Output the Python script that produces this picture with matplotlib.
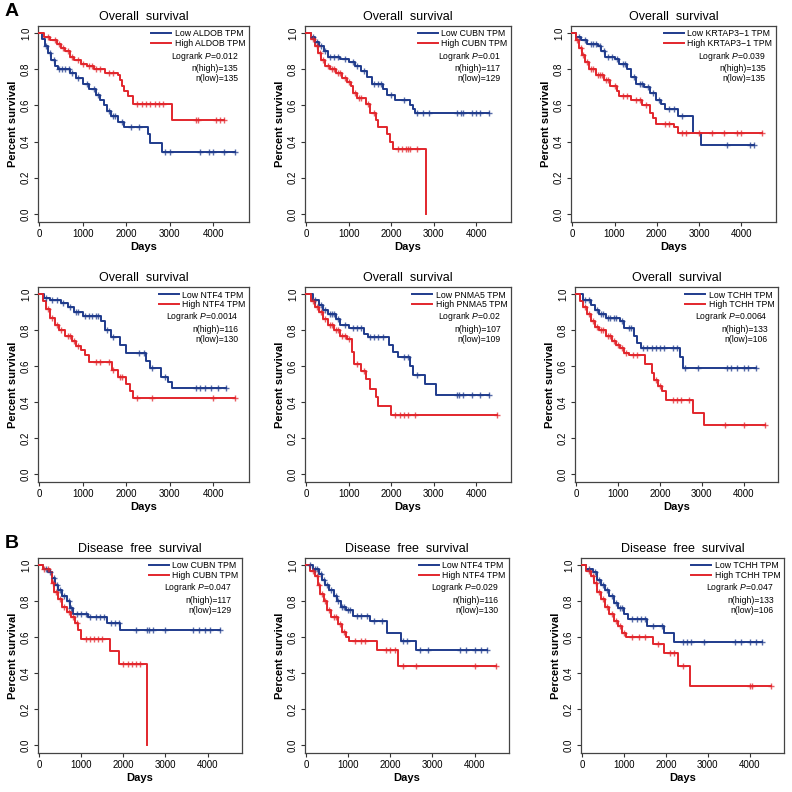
import numpy as np
import matplotlib
matplotlib.use("Agg")
import matplotlib.pyplot as plt

plt.rcParams["font.family"] = ["Liberation Sans", "DejaVu Sans"]
plt.rcParams["mathtext.fontset"] = "custom"
plt.rcParams["mathtext.rm"] = "Liberation Sans"
plt.rcParams["mathtext.it"] = "Liberation Sans:italic"

BLUE = "#1f3b8c"
RED = "#e2262c"

# ---- data: (days, survival) step points, censor days ----
# A1 ALDOB OS
aldob_low = [(0, 1.0), (60, 0.97), (120, 0.93), (200, 0.89), (280, 0.85), (350, 0.82), (420, 0.80),
             (700, 0.78), (850, 0.75), (1000, 0.72), (1150, 0.69), (1300, 0.66), (1400, 0.63),
             (1480, 0.60), (1550, 0.57), (1650, 0.54), (1800, 0.51), (1950, 0.48), (2500, 0.44),
             (2550, 0.39), (2830, 0.34), (4500, 0.34)]
aldob_low_cens = [150, 250, 330, 450, 520, 600, 680, 760, 900, 1100, 1250, 1350, 1600, 1700, 1750,
                  1900, 2100, 2300, 2900, 3000, 3700, 3900, 4000, 4250, 4500]
aldob_high = [(0, 1.0), (100, 0.98), (250, 0.96), (400, 0.94), (500, 0.92), (600, 0.90), (700, 0.87),
              (800, 0.85), (950, 0.83), (1100, 0.82), (1250, 0.80), (1500, 0.78), (1800, 0.77),
              (1850, 0.74), (1900, 0.71), (1950, 0.68), (2050, 0.65), (2150, 0.61), (3050, 0.52),
              (4250, 0.52)]
aldob_high_cens = [200, 350, 450, 550, 650, 750, 900, 1000, 1150, 1200, 1300, 1400, 1600, 1700,
                   2250, 2350, 2450, 2550, 2650, 2750, 2850, 3600, 3650, 4050, 4150, 4250]
# A2 CUBN OS
cubn_low = [(0, 1.0), (100, 0.98), (200, 0.95), (300, 0.93), (420, 0.90), (500, 0.87), (800, 0.86),
            (1000, 0.84), (1150, 0.82), (1300, 0.79), (1420, 0.76), (1550, 0.72), (1800, 0.69),
            (1900, 0.66), (2100, 0.63), (2450, 0.60), (2520, 0.58), (2570, 0.56), (4300, 0.56)]
cubn_low_cens = [150, 250, 350, 450, 550, 650, 750, 900, 1100, 1200, 1350, 1600, 1700, 1750, 2000,
                 2300, 2600, 2750, 2900, 3550, 3650, 3700, 3900, 4000, 4100, 4300]
cubn_high = [(0, 1.0), (100, 0.97), (200, 0.93), (280, 0.89), (350, 0.85), (450, 0.82), (550, 0.80),
             (700, 0.78), (850, 0.75), (950, 0.73), (1050, 0.71), (1100, 0.67), (1200, 0.64),
             (1400, 0.61), (1500, 0.56), (1650, 0.52), (1700, 0.48), (1900, 0.44), (1980, 0.40),
             (2050, 0.36), (2830, 0.0)]
cubn_high_cens = [150, 250, 320, 400, 500, 600, 650, 750, 800, 900, 1000, 1150, 1250, 1300, 1450,
                  1600, 2150, 2250, 2350, 2400, 2450, 2600]
# A3 KRTAP3-1 OS
krtap_low = [(0, 1.0), (100, 0.98), (200, 0.96), (350, 0.94), (600, 0.93), (680, 0.90), (780, 0.87),
             (1000, 0.86), (1100, 0.83), (1300, 0.80), (1380, 0.76), (1500, 0.72), (1700, 0.70),
             (1850, 0.67), (1980, 0.63), (2100, 0.61), (2200, 0.58), (2500, 0.54), (2850, 0.45),
             (3050, 0.38), (4300, 0.38)]
krtap_low_cens = [150, 300, 450, 500, 550, 650, 750, 850, 950, 1050, 1200, 1250, 1450, 1600, 1650,
                  1800, 1900, 2050, 2300, 2400, 2600, 3650, 4200, 4300]
krtap_high = [(0, 1.0), (80, 0.96), (150, 0.92), (220, 0.88), (300, 0.84), (400, 0.80), (550, 0.77),
              (750, 0.74), (900, 0.71), (1050, 0.68), (1100, 0.65), (1400, 0.63), (1650, 0.60),
              (1850, 0.56), (1900, 0.53), (1980, 0.50), (2400, 0.48), (2500, 0.45), (4500, 0.45)]
krtap_high_cens = [120, 200, 260, 350, 450, 500, 600, 650, 700, 800, 850, 1000, 1200, 1300, 1500,
                   1600, 1750, 2200, 2300, 2600, 2700, 3000, 3300, 3600, 3900, 4000, 4500]
# A4 NTF4 OS
ntf4_low = [(0, 1.0), (100, 0.98), (250, 0.97), (500, 0.95), (650, 0.93), (800, 0.90), (1000, 0.88),
            (1420, 0.85), (1500, 0.80), (1650, 0.76), (1850, 0.72), (2000, 0.67), (2450, 0.63),
            (2550, 0.59), (2800, 0.54), (2950, 0.51), (3050, 0.48), (4300, 0.48)]
ntf4_low_cens = [150, 300, 400, 550, 700, 850, 900, 1050, 1150, 1200, 1300, 1350, 1550, 1700, 2300,
                 2400, 2600, 2900, 3600, 3700, 3800, 3950, 4100, 4300]
ntf4_high = [(0, 1.0), (80, 0.96), (150, 0.92), (250, 0.87), (350, 0.83), (450, 0.80), (600, 0.77),
             (750, 0.74), (850, 0.71), (950, 0.69), (1050, 0.66), (1150, 0.62), (1680, 0.58),
             (1800, 0.54), (2000, 0.50), (2080, 0.46), (2150, 0.42), (4500, 0.42)]
ntf4_high_cens = [200, 300, 400, 500, 650, 700, 800, 900, 1300, 1400, 1600, 1700, 1850, 1900,
                  2250, 2600, 4000, 4500]
# A5 PNMA5 OS
pnma5_low = [(0, 1.0), (150, 0.97), (300, 0.94), (400, 0.91), (500, 0.89), (700, 0.86), (800, 0.83),
             (1000, 0.81), (1350, 0.78), (1450, 0.76), (1950, 0.72), (2050, 0.68), (2150, 0.65),
             (2450, 0.60), (2520, 0.55), (2800, 0.50), (3050, 0.44), (4300, 0.44)]
pnma5_low_cens = [200, 350, 450, 550, 600, 650, 750, 900, 1100, 1200, 1300, 1500, 1600, 1700, 1800,
                  2300, 2400, 2600, 3550, 3600, 3700, 3900, 4100, 4300]
pnma5_high = [(0, 1.0), (100, 0.96), (200, 0.93), (300, 0.90), (400, 0.86), (500, 0.83), (650, 0.80),
              (800, 0.77), (950, 0.75), (1080, 0.68), (1120, 0.61), (1300, 0.57), (1400, 0.53),
              (1500, 0.47), (1650, 0.43), (1700, 0.38), (2000, 0.33), (4500, 0.33)]
pnma5_high_cens = [150, 250, 350, 450, 550, 600, 700, 750, 850, 900, 1000, 1200, 1350, 2100, 2200,
                   2300, 2400, 2550, 4500]
# A6 TCHH OS
tchh_low = [(0, 1.0), (150, 0.97), (350, 0.94), (450, 0.91), (550, 0.89), (700, 0.87), (1050, 0.85),
            (1150, 0.81), (1380, 0.77), (1450, 0.73), (1550, 0.70), (2470, 0.65), (2550, 0.59),
            (4300, 0.59)]
tchh_low_cens = [200, 300, 500, 600, 650, 750, 800, 900, 950, 1100, 1250, 1300, 1600, 1700, 1800,
                 1900, 2000, 2100, 2300, 2400, 2600, 2900, 3600, 3700, 3850, 4000, 4100, 4300]
tchh_high = [(0, 1.0), (80, 0.96), (150, 0.93), (250, 0.89), (350, 0.85), (450, 0.82), (550, 0.80),
             (700, 0.77), (850, 0.74), (950, 0.72), (1050, 0.70), (1150, 0.67), (1250, 0.66),
             (1650, 0.61), (1800, 0.56), (1850, 0.52), (1950, 0.49), (2050, 0.46), (2150, 0.41),
             (2800, 0.34), (3050, 0.27), (4500, 0.27)]
tchh_high_cens = [200, 300, 400, 500, 600, 650, 750, 800, 900, 1000, 1100, 1200, 1350, 1450, 1900,
                  2000, 2300, 2400, 2500, 2700, 3550, 4000, 4500]
# B1 CUBN DFS
cubn_dfs_low = [(0, 1.0), (100, 0.98), (200, 0.96), (300, 0.93), (380, 0.89), (450, 0.86),
                (550, 0.83), (650, 0.80), (720, 0.76), (800, 0.73), (1150, 0.71), (1620, 0.68),
                (1920, 0.64), (4300, 0.64)]
cubn_dfs_low_cens = [150, 250, 350, 420, 500, 600, 700, 750, 900, 1000, 1100, 1200, 1350, 1450,
                     1550, 1700, 1800, 1900, 2300, 2550, 2600, 2700, 3000, 3650, 3800, 3950, 4050, 4300]
cubn_dfs_high = [(0, 1.0), (80, 0.98), (250, 0.96), (300, 0.90), (350, 0.85), (450, 0.81),
                 (550, 0.77), (650, 0.74), (750, 0.71), (850, 0.68), (920, 0.64), (1000, 0.59),
                 (1680, 0.52), (1900, 0.45), (2570, 0.0)]
cubn_dfs_high_cens = [120, 200, 320, 400, 500, 600, 700, 800, 900, 1100, 1200, 1300, 1400, 1500,
                      2000, 2100, 2200, 2300, 2400]
# B2 NTF4 DFS
ntf4_dfs_low = [(0, 1.0), (150, 0.98), (300, 0.95), (380, 0.92), (450, 0.89), (550, 0.86),
                (650, 0.83), (720, 0.80), (820, 0.77), (950, 0.75), (1100, 0.72), (1520, 0.69),
                (1920, 0.62), (2250, 0.58), (2600, 0.53), (4300, 0.53)]
ntf4_dfs_low_cens = [100, 200, 250, 350, 420, 500, 600, 700, 750, 850, 900, 1000, 1050, 1200, 1300,
                     1450, 1600, 1800, 2300, 2400, 2700, 2900, 3650, 3800, 4000, 4150, 4300]
ntf4_dfs_high = [(0, 1.0), (100, 0.97), (200, 0.94), (280, 0.89), (330, 0.84), (420, 0.80),
                 (500, 0.75), (600, 0.71), (750, 0.67), (850, 0.63), (950, 0.60), (1020, 0.58),
                 (1680, 0.53), (2180, 0.44), (4500, 0.44)]
ntf4_dfs_high_cens = [150, 250, 300, 380, 450, 550, 650, 700, 800, 900, 1150, 1300, 1400, 1900,
                      2000, 2100, 2300, 2600, 4000, 4500]
# B3 TCHH DFS
tchh_dfs_low = [(0, 1.0), (100, 0.98), (250, 0.96), (350, 0.92), (450, 0.89), (550, 0.86),
                (650, 0.83), (750, 0.79), (850, 0.76), (1000, 0.73), (1100, 0.70), (1550, 0.66),
                (1950, 0.62), (2200, 0.57), (4300, 0.57)]
tchh_dfs_low_cens = [150, 300, 400, 500, 600, 700, 800, 900, 950, 1200, 1300, 1400, 1500, 1700,
                     1900, 2400, 2500, 2600, 2900, 3650, 3800, 4000, 4150, 4300]
tchh_dfs_high = [(0, 1.0), (80, 0.97), (200, 0.94), (280, 0.90), (350, 0.85), (450, 0.81),
                 (550, 0.77), (650, 0.73), (750, 0.69), (850, 0.66), (950, 0.62), (1050, 0.60),
                 (1700, 0.56), (1950, 0.51), (2280, 0.44), (2570, 0.33), (4500, 0.33)]
tchh_dfs_high_cens = [150, 250, 320, 400, 500, 600, 700, 800, 900, 1000, 1200, 1350, 1500, 1800,
                      2100, 2200, 2400, 4000, 4050, 4500]

genes = ["ALDOB", "CUBN", "KRTAP3\u22121", "NTF4", "PNMA5", "TCHH", "CUBN", "NTF4", "TCHH"]
titles = ["Overall  survival"] * 6 + ["Disease  free  survival"] * 3
pvalues = ["0.012", "0.01", "0.039", "0.0014", "0.02", "0.0064", "0.047", "0.029", "0.047"]
n_high = [135, 117, 135, 116, 107, 133, 117, 116, 133]
n_low = [135, 129, 135, 130, 109, 106, 129, 130, 106]
low_curves = [aldob_low, cubn_low, krtap_low, ntf4_low, pnma5_low, tchh_low,
              cubn_dfs_low, ntf4_dfs_low, tchh_dfs_low]
low_cens = [aldob_low_cens, cubn_low_cens, krtap_low_cens, ntf4_low_cens, pnma5_low_cens,
            tchh_low_cens, cubn_dfs_low_cens, ntf4_dfs_low_cens, tchh_dfs_low_cens]
high_curves = [aldob_high, cubn_high, krtap_high, ntf4_high, pnma5_high, tchh_high,
               cubn_dfs_high, ntf4_dfs_high, tchh_dfs_high]
high_cens = [aldob_high_cens, cubn_high_cens, krtap_high_cens, ntf4_high_cens, pnma5_high_cens,
             tchh_high_cens, cubn_dfs_high_cens, ntf4_dfs_high_cens, tchh_dfs_high_cens]

# axes boxes in pixels: left, top, right, bottom
boxes = [(38, 26, 249, 222), (305, 26, 511, 222), (571, 26, 776, 222),
         (38, 287, 249, 482), (305, 287, 511, 482), (575, 287, 778, 482),
         (38, 558, 242, 753), (305, 558, 509, 753), (581, 558, 784, 753)]

W = H = 792
fig = plt.figure(figsize=(7.92, 7.92), dpi=100)


def draw_curve(ax, pts, cens, color):
    t = np.array([p[0] for p in pts], dtype=float)
    s = np.array([p[1] for p in pts], dtype=float)
    ax.step(t, s, where="post", color=color, lw=1.4, zorder=3)
    c = np.array(cens, dtype=float)
    idx = np.searchsorted(t, c, side="right") - 1
    ax.plot(c, s[idx], ls="none", marker="+", ms=5, mew=1.0, color=color, alpha=0.75, zorder=4)


for i in range(9):
    l, t, r, b = boxes[i]
    ax = fig.add_axes([l / W, 1 - b / H, (r - l) / W, (b - t) / H])
    draw_curve(ax, low_curves[i], low_cens[i], BLUE)
    draw_curve(ax, high_curves[i], high_cens[i], RED)
    ax.set_xlim(-30, 4820)
    ax.set_ylim(-0.045, 1.04)
    ax.set_xticks([0, 1000, 2000, 3000, 4000])
    ax.set_yticks([0.0, 0.2, 0.4, 0.6, 0.8, 1.0])
    ax.set_yticklabels(["0.0", "0.2", "0.4", "0.6", "0.8", "1.0"], rotation=90, va="center")
    ax.tick_params(direction="out", length=3, width=0.8, labelsize=7, pad=2, color="#333333")
    for sp in ax.spines.values():
        sp.set_linewidth(0.9)
        sp.set_color("#444444")
    ax.set_title(titles[i], fontsize=9, pad=4)
    ax.set_xlabel("Days", fontsize=8, fontweight="bold", labelpad=2)
    ax.set_ylabel("Percent survival", fontsize=8, fontweight="bold", labelpad=2)

    ax.plot([], [], color=BLUE, lw=1.4, label="Low %s TPM" % genes[i])
    ax.plot([], [], color=RED, lw=1.4, label="High %s TPM" % genes[i])
    ax.legend(loc="upper right", bbox_to_anchor=(1.0, 1.0), frameon=False, fontsize=6.3,
              handlelength=2.3, handletextpad=0.4, labelspacing=0.05, borderaxespad=0.2,
              borderpad=0.2)
    info = "Logrank $\\it{P}$=%s\nn(high)=%d\nn(low)=%d" % (pvalues[i], n_high[i], n_low[i])
    ax.text(0.95, 0.88, info, transform=ax.transAxes, ha="right", va="top", fontsize=6.2,
            linespacing=1.2)

fig.text(5 / W, 1 - 12 / H, "A", fontsize=14, fontweight="bold", va="center")
fig.text(5 / W, 1 - 543 / H, "B", fontsize=14, fontweight="bold", va="center")

fig.savefig("out.png", dpi=100)
